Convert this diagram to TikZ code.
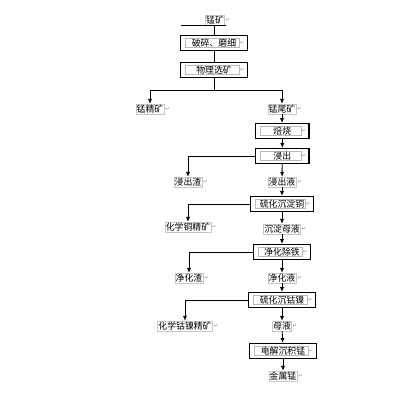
\documentclass[tikz,border=0pt]{standalone}
\usepackage{fontspec}
\newfontfamily\cjk{Noto Sans CJK SC}
\newfontfamily\dejavu{DejaVu Sans}
\usetikzlibrary{arrows.meta}
\begin{document}
\begin{tikzpicture}[x=0.025cm, y=-0.025cm, line width=0.6pt,
    pmark/.style={font=\dejavu\fontsize{3.5}{4}\selectfont, text=gray, inner sep=0.3pt},
    lbl/.style={draw=gray!45, line width=0.4pt, inner sep=0.6pt, font=\cjk\fontsize{6.3}{7}\selectfont,
      label={[pmark]right:↵}},
    proc/.style={draw, line width=0.9pt, minimum height=0.37cm, inner sep=0pt,
      font=\cjk\fontsize{6.3}{7}\selectfont,
      label={[pmark, anchor=east, xshift=-2.2pt]east:↵},
      path picture={\draw[gray!55, line width=0.4pt]
        ([shift={(0.12cm,-0.07cm)}]path picture bounding box.north west) rectangle
        ([shift={(-0.2cm,0.07cm)}]path picture bounding box.south east);}},
    flow/.style={-{Latex[length=3.5pt,width=3pt]}}]
      \useasboundingbox (0,0) rectangle (400,400);

      % ore and crushing
      \node[lbl] (ore) at (215,20) {锰矿};
      \coordinate (ol) at (181,25);
      \coordinate (or) at (226,25);
      \coordinate (ot) at (214,25);
      \node[proc, minimum width=1.675cm] (b1) at (214,43) {破碎、磨细};
      \node[proc, minimum width=1.675cm] (b2) at (214,70) {物理选矿};
      \coordinate (split) at (214,90);

      % right column
      \node[lbl] (l1) at (150,109) {锰精矿};
      \node[lbl] (l2) at (282,109) {锰尾矿};
      \node[proc, minimum width=1.33cm] (b3) at (282.3,131) {焙烧};
      \node[proc, minimum width=1.33cm] (b4) at (282.3,156) {浸出};
      \node[lbl] (l3) at (188,182) {浸出渣};
      \node[lbl] (l4) at (282,182) {浸出液};
      \node[proc, minimum width=1.575cm] (b5) at (282,204) {硫化沉淀铜};
      \node[lbl] (l5) at (188,227) {化学铜精矿};
      \node[lbl] (l6) at (282,229) {沉淀母液};
      \node[proc, minimum width=1.425cm] (b6) at (282,252) {净化除铁};
      \node[lbl] (l7) at (189,278) {净化渣};
      \node[lbl] (l8) at (282,278) {净化液};
      \node[proc, minimum width=1.675cm] (b7) at (282,300) {硫化沉钴镍};
      \node[lbl] (l9) at (185,326) {化学钴镍精矿};
      \node[lbl] (l10) at (282,326) {母液};
      \node[proc, minimum width=1.675cm] (b8) at (283,351) {电解沉积锰};
      \node[lbl] (l11) at (283,376) {金属锰};

      \draw (ol) -- (or);
      \draw (ot) -- (b1);
      \draw (b1) -- (b2);
      \draw (b2) -- (split);
      \draw[flow] (split) -| (l1);
      \draw[flow] (split) -| (l2);
      \path[flow]
      (l2) edge (l2 |- b3.north)
      (b3) edge (b3 |- b4.north)
      (b4) edge (l4)
      (l4) edge (b5)
      (b5) edge (l6)
      (l6) edge (b6)
      (b6) edge (l8)
      (l8) edge (b7)
      (b7) edge (l10)
      (l10) edge (b8)
      (b8) edge (l11);
      \draw[flow] (b4.west) -| (l3);
      \draw[flow] (b5.west) -| (l5);
      \draw[flow] (b6.west) -| (l7);
      \draw[flow] (b7.west) -| (l9);
    \end{tikzpicture}
\end{document}
